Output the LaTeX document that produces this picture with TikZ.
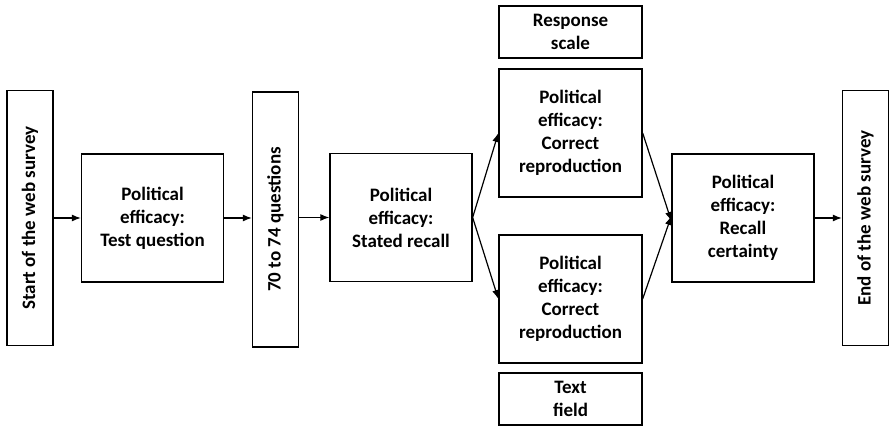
\documentclass[tikz,border=0pt]{standalone}
\usepackage{fontspec}
\setmainfont{Carlito}
\usetikzlibrary{arrows.meta,positioning}

\tikzset{
  box/.style={draw,line width=1.3pt,align=center,inner sep=2pt,
    font=\fontsize{19}{23}\selectfont\bfseries},
  bigbox/.style={box,minimum width=142pt,minimum height=128pt},
  smallbox/.style={box,minimum width=143pt,minimum height=52pt},
  tallbox/.style={box,rotate=90,minimum width=255pt,minimum height=46pt},
  flow/.style={line width=1.2pt,-{Latex[length=9pt,width=7pt]}}
}

\begin{document}
\begin{tikzpicture}[x=1pt,y=-1pt]
  \useasboundingbox (0,0) rectangle (889,427);

  % Start and end of the survey
  \node[tallbox] (start) at (30,218) {Start of the web survey};
  \node[tallbox] (finish) at (865.5,218) {End of the web survey};

  % Test question and filler block
  \node[bigbox] (testq) at (152.5,218) {Political\\efficacy:\\Test question};
  \node[tallbox] (filler) at (275.5,219.5) {70 to 74 questions};

  % Stated recall
  \node[bigbox] (stated) at (401,217.5) {Political\\efficacy:\\Stated recall};

  % Two reproduction variants
  \node[smallbox] (scale) at (570.5,32) {Response\\scale};
  \node[bigbox,minimum width=143pt] (corrtop) at (570.5,133) {Political\\efficacy:\\Correct\\reproduction};
  \node[bigbox,minimum width=143pt] (corrbot) at (570.5,299) {Political\\efficacy:\\Correct\\reproduction};
  \node[smallbox] (textfield) at (570.5,399) {Text\\field};

  % Recall certainty
  \node[bigbox] (certainty) at (743,218) {Political\\efficacy:\\Recall\\certainty};

  % Arrows
  \draw[flow] (start) -- (testq);
  \draw[flow] (testq.east) -- (filler.north |- testq.east);
  \draw[flow] (filler.south |- stated.west) -- (stated.west);
  \draw[flow] (stated.east) -- (corrtop.west);
  \draw[flow] (stated.east) -- (corrbot.west);
  \draw[flow] (corrtop.east) -- ([yshift=-3pt]certainty.west);
  \draw[flow] (corrbot.east) -- ([yshift=2pt]certainty.west);
  \draw[flow] (certainty.east) -- (finish.north |- certainty.east);

\end{tikzpicture}
\end{document}
